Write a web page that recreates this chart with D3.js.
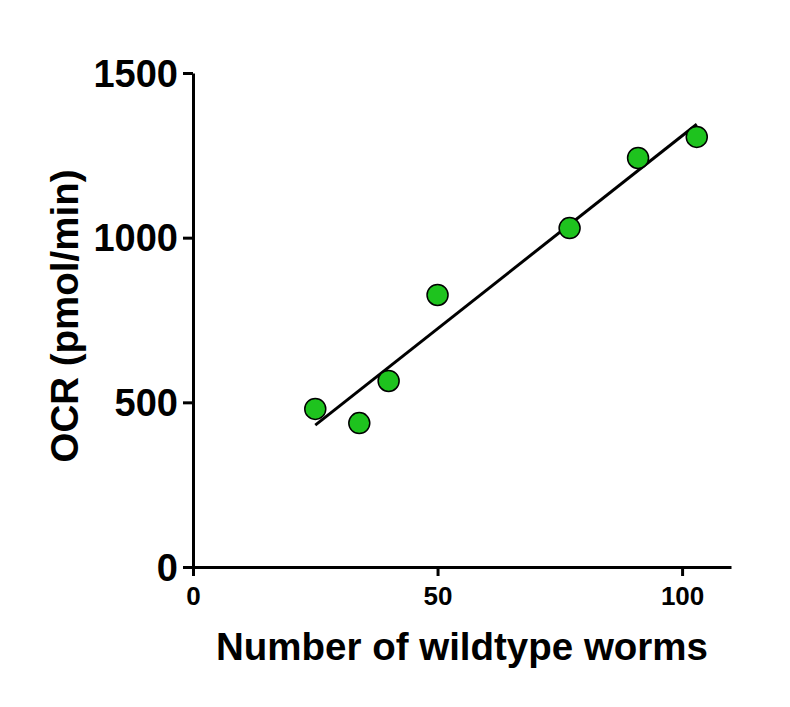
<!DOCTYPE html>
<html>
<head>
<meta charset="utf-8">
<script src="https://cdn.jsdelivr.net/npm/d3@7"></script>
<style>
  html, body { margin: 0; padding: 0; background: #fff; }
  text { font-family: "Liberation Sans", Arial, sans-serif; font-weight: bold; fill: #000; }
</style>
</head>
<body>
<svg id="chart" width="790" height="707"></svg>
<script>
// Data
const worms = [25, 34, 40, 50, 77, 91, 103];
const ocr = [480, 437, 565, 826, 1029, 1242, 1306];
const xTicks = [0, 50, 100];
const yTicks = [0, 500, 1000, 1500];
const xLabel = "Number of wildtype worms";
const yLabel = "OCR (pmol/min)";

const svg = d3.select("#chart");
const x = d3.scaleLinear().domain([0, 110]).range([193, 731]);
const y = d3.scaleLinear().domain([0, 1500]).range([567, 73]);

// Axes
const xAxis = d3.axisBottom(x).tickValues(xTicks).tickSizeInner(9).tickSizeOuter(0).tickPadding(11).tickFormat(d3.format("d"));
const yAxis = d3.axisLeft(y).tickValues(yTicks).tickSizeInner(10).tickSizeOuter(0).tickPadding(5).tickFormat(d3.format("d"));

const gx = svg.append("g").attr("transform", `translate(0,${y(0)})`).call(xAxis);
const gy = svg.append("g").attr("transform", `translate(${x(0)},0)`).call(yAxis);

[gx, gy].forEach(g => {
  g.select(".domain").attr("stroke", "#000").attr("stroke-width", 3);
  g.selectAll(".tick line").attr("stroke", "#000").attr("stroke-width", 3);
  g.selectAll(".tick text").attr("fill", "#000").style("font-family", '"Liberation Sans", Arial, sans-serif').style("font-weight", "bold");
});
gx.selectAll(".tick text").style("font-size", "26px").attr("dy", "0.71em");
gy.selectAll(".tick text").style("font-size", "38px").attr("dy", "0.35em");

// Linear regression fit from the data
const n = worms.length;
const mx = d3.mean(worms), my = d3.mean(ocr);
let sxy = 0, sxx = 0;
for (let i = 0; i < n; i++) { sxy += (worms[i]-mx)*(ocr[i]-my); sxx += (worms[i]-mx)**2; }
const slope = sxy / sxx, intercept = my - slope*mx;
const xr = d3.extent(worms);
svg.append("line")
  .attr("x1", x(xr[0])).attr("y1", y(intercept + slope*xr[0]))
  .attr("x2", x(xr[1])).attr("y2", y(intercept + slope*xr[1]))
  .attr("stroke", "#000").attr("stroke-width", 3);

// Points
svg.selectAll("circle.pt").data(worms.map((w, i) => [w, ocr[i]])).enter()
  .append("circle").attr("class", "pt")
  .attr("cx", d => x(d[0])).attr("cy", d => y(d[1]))
  .attr("r", 10.5)
  .attr("fill", "#1ec31e").attr("stroke", "#000").attr("stroke-width", 1.5);

// Axis titles
svg.append("text").attr("x", 462).attr("y", 660).attr("text-anchor", "middle")
  .style("font-size", "38.5px").text(xLabel);
svg.append("text").attr("transform", "translate(78,316) rotate(-90)").attr("text-anchor", "middle")
  .style("font-size", "38.5px").text(yLabel);
</script>
</body>
</html>
